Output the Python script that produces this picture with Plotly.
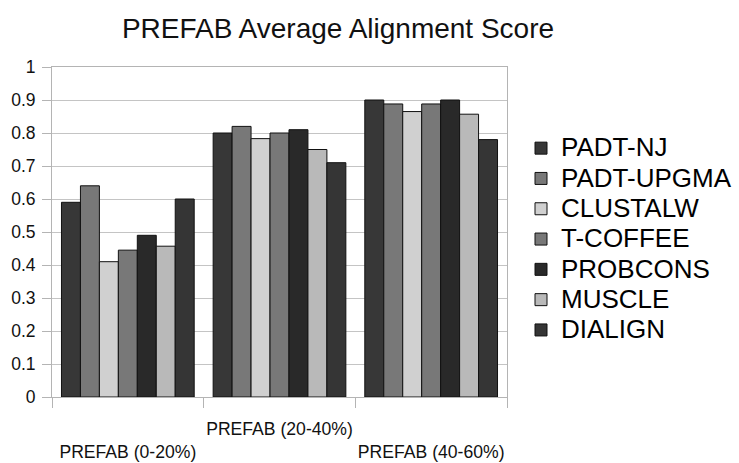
import plotly.graph_objects as go

# Benchmark subsets (categories on the x axis)
categories = ["PREFAB (0-20%)", "PREFAB (20-40%)", "PREFAB (40-60%)"]
# Staggered tick text so the long labels do not collide
tick_labels = ["<br>PREFAB (0-20%)", "PREFAB (20-40%)", "<br>PREFAB (40-60%)"]

methods = ["PADT-NJ", "PADT-UPGMA", "CLUSTALW", "T-COFFEE", "PROBCONS", "MUSCLE", "DIALIGN"]

padt_nj = [0.59, 0.80, 0.90]
padt_upgma = [0.64, 0.82, 0.888]
clustalw = [0.41, 0.783, 0.865]
t_coffee = [0.445, 0.80, 0.888]
probcons = [0.49, 0.81, 0.90]
muscle = [0.457, 0.75, 0.857]
dialign = [0.60, 0.71, 0.78]

y_ticks = [0, 0.1, 0.2, 0.3, 0.4, 0.5, 0.6, 0.7, 0.8, 0.9, 1]
y_tick_labels = ["0", "0.1", "0.2", "0.3", "0.4", "0.5", "0.6", "0.7", "0.8", "0.9", "1"]

series = [padt_nj, padt_upgma, clustalw, t_coffee, probcons, muscle, dialign]
fills = ["#373737", "#787878", "#d0d0d0", "#787878", "#292929", "#b9b9b9", "#353535"]

FONT = "Liberation Sans, Arial, sans-serif"

fig = go.Figure()
for name, vals, color in zip(methods, series, fills):
    fig.add_trace(go.Bar(
        x=categories,
        y=vals,
        name='<span style="font-size:26px">' + name + "</span>",
        marker=dict(color=color, line=dict(color="#111111", width=1)),
    ))

fig.update_layout(
    width=739,
    height=463,
    margin=dict(l=52, r=232, t=67, b=66, autoexpand=False),
    paper_bgcolor="white",
    plot_bgcolor="white",
    barmode="group",
    bargap=0.125,
    bargroupgap=0,
    font=dict(family=FONT, color="#000000"),
    title=dict(
        text="PREFAB Average Alignment Score",
        font=dict(family=FONT, size=28, color="#111111"),
        x=338 / 739,
        xanchor="center",
        xref="container",
        y=1 - 28 / 463,
        yanchor="middle",
        yref="container",
    ),
    legend=dict(
        xref="container",
        yref="container",
        x=521 / 739,
        y=1 - 128 / 463,
        xanchor="left",
        yanchor="top",
        font=dict(family=FONT, size=21, color="#000000"),
        bgcolor="rgba(0,0,0,0)",
        itemclick=False,
    ),
    showlegend=True,
)

fig.update_xaxes(
    type="category",
    tickmode="array",
    tickvals=categories,
    ticktext=tick_labels,
    tickangle=0,
    automargin=False,
    tickson="boundaries",
    ticks="outside",
    ticklen=10,
    tickcolor="#b4b4b4",
    tickwidth=1,
    showline=True,
    linecolor="#b4b4b4",
    linewidth=1,
    mirror=True,
    showgrid=False,
    tickfont=dict(family=FONT, size=17.6, color="#111111"),
    ticklabelstandoff=16,
)

fig.update_yaxes(
    range=[0, 1],
    tickmode="array",
    tickvals=y_ticks,
    ticktext=y_tick_labels,
    automargin=False,
    ticks="outside",
    ticklen=9,
    tickcolor="#b4b4b4",
    showline=True,
    linecolor="#b4b4b4",
    linewidth=1,
    mirror=True,
    showgrid=True,
    gridcolor="#c4c4c4",
    gridwidth=1,
    zeroline=False,
    tickfont=dict(family=FONT, size=17.5, color="#111111"),
    ticklabelstandoff=3,
)

fig.write_html("out.html")
